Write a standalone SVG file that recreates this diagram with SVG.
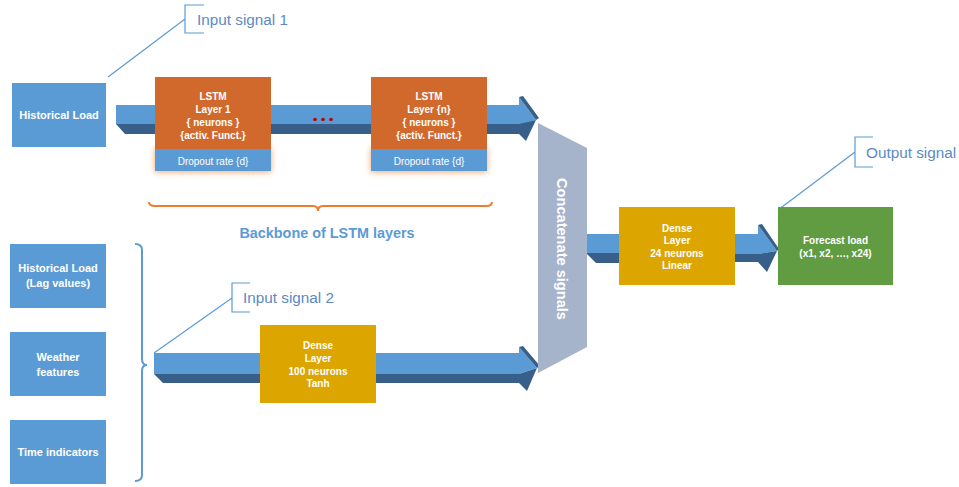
<svg xmlns="http://www.w3.org/2000/svg" width="959" height="487" viewBox="0 0 959 487">
<defs>
<style>
.lt{fill:#5B9BD5}
.dk{fill:#375F8A}
.blue{fill:#5B9BD5}
.orange{fill:#D0692B}
.gold{fill:#DCA500}
.green{fill:#629C42}
.bt{font-family:"Liberation Sans",Arial,sans-serif;font-weight:bold;fill:#fff;text-anchor:middle}
.bx{font-size:11px}
.sm{font-size:10px}
.dr{font-family:"Liberation Sans",Arial,sans-serif;font-size:10px;fill:#fff;text-anchor:middle}
.co{fill:none;stroke:#5B9BD5;stroke-width:1.2}
.ct{font-family:"Liberation Sans",Arial,sans-serif;font-size:15.3px;fill:#5A8AC4}
</style>
<filter id="glow" x="-30%" y="-60%" width="160%" height="220%">
<feGaussianBlur stdDeviation="3"/>
</filter>
</defs>

<g id="connectors">
<g id="arrow-top">
<rect class="lt" x="116" y="105" width="404" height="19"/>
<polygon class="dk" points="116,124 520,124 520,134 125,134"/>
<polygon class="lt" points="519,97 536,120 519,125"/>
<polygon class="dk" points="519,124 536,120 526,141 519,134"/>
<polygon class="dk" points="519,97 523,96 539,118 536,120"/>
</g>
<g id="arrow-bottom">
<rect class="lt" x="154" y="353" width="366" height="21"/>
<polygon class="dk" points="154,374 520,374 520,383 163,383"/>
<polygon class="lt" points="519,347 537,368 519,374"/>
<polygon class="dk" points="519,374 537,368 527,391 519,383"/>
<polygon class="dk" points="519,347 523,346 540,366 537,368"/>
</g>
<g id="arrow-concat-dense">
<rect class="lt" x="586" y="234" width="40" height="19"/>
<polygon class="dk" points="586,253 626,253 626,263 596,263"/>
</g>
<g id="arrow-dense-forecast">
<rect class="lt" x="733" y="234" width="26" height="20"/>
<polygon class="dk" points="733,254 759,254 759,262 733,262"/>
<polygon class="lt" points="758,225 777,251 758,254"/>
<polygon class="dk" points="758,254 777,251 767,272 758,262"/>
<polygon class="dk" points="758,225 762,224 779,249 777,251"/>
</g>
<path class="co" d="M108,77 L185,19 M204,5 H185 V33 H204"/>
<path class="co" d="M154,353 L232,298 M250,283 H232 V312 H250"/>
<path class="co" d="M778,210 L855,152 M873,137 H855 V167 H873"/>
<path d="M135,244 Q142,244 142,250 V359 Q142,365 147,365 Q142,365 142,371 V475 Q142,481 135,481" fill="none" stroke="#5B9BD5" stroke-width="2"/>
<path d="M149,202 Q149,206 155,206 H313 Q318,206 318,211 Q318,206 323,206 H486 Q492,206 492,202" fill="none" stroke="#ED7D31" stroke-width="2"/>
</g>

<g id="historical-load">
<rect class="blue" x="12" y="83" width="94" height="64"/>
<text class="bt bx" x="59" y="119">Historical Load</text>
</g>

<g id="lstm1">
<rect x="155" y="148" width="116" height="24" fill="#F4A46A" filter="url(#glow)"/>
<rect class="orange" x="155" y="77" width="116" height="72"/>
<rect class="blue" x="155" y="149" width="116" height="22"/>
<text class="bt sm" x="213" y="99.5">LSTM</text>
<text class="bt sm" x="213" y="112.5">Layer 1</text>
<text class="bt sm" x="213" y="125.5">{ neurons }</text>
<text class="bt sm" x="213" y="138.5">{activ. Funct.}</text>
<text class="dr" x="213" y="164.5">Dropout rate {d}</text>
</g>

<g id="dots">
<circle cx="315" cy="119.5" r="1.8" fill="#C00000"/>
<circle cx="323" cy="119.5" r="1.8" fill="#C00000"/>
<circle cx="331" cy="119.5" r="1.8" fill="#C00000"/>
</g>

<g id="lstmn">
<rect x="371" y="148" width="116" height="24" fill="#F4A46A" filter="url(#glow)"/>
<rect class="orange" x="371" y="77" width="116" height="72"/>
<rect class="blue" x="371" y="149" width="116" height="22"/>
<text class="bt sm" x="429" y="99.5">LSTM</text>
<text class="bt sm" x="429" y="112.5">Layer {n}</text>
<text class="bt sm" x="429" y="125.5">{ neurons }</text>
<text class="bt sm" x="429" y="138.5">{activ. Funct.}</text>
<text class="dr" x="429" y="164.5">Dropout rate {d}</text>
</g>

<g id="backbone-label">
<text x="327" y="238" font-family="Liberation Sans, Arial, sans-serif" font-weight="bold" font-size="14.4" fill="#5B9BD5" text-anchor="middle">Backbone of LSTM layers</text>
</g>

<g id="concatenate">
<polygon points="538,123 587,148 587,347 538,373" fill="#A5B4CB"/>
<text class="bt" font-size="14.6" transform="translate(562,249) rotate(90)" dominant-baseline="central">Concatenate signals</text>
</g>

<g id="dense-24">
<rect class="gold" x="619" y="207" width="116" height="78"/>
<text class="bt sm" x="677" y="231.5">Dense</text>
<text class="bt sm" x="677" y="244">Layer</text>
<text class="bt sm" x="677" y="256.5">24 neurons</text>
<text class="bt sm" x="677" y="269">Linear</text>
</g>

<g id="forecast">
<rect class="green" x="778" y="207" width="115" height="78"/>
<text class="bt sm" x="835.5" y="243.5">Forecast load</text>
<text class="bt sm" x="835.5" y="256.5">(x1, x2, …, x24)</text>
</g>

<g id="lag-values">
<rect class="blue" x="10" y="244" width="96" height="64"/>
<text class="bt bx" x="58" y="272">Historical Load</text>
<text class="bt bx" x="58" y="287">(Lag values)</text>
</g>

<g id="weather">
<rect class="blue" x="10" y="332" width="96" height="64"/>
<text class="bt bx" x="58" y="361">Weather</text>
<text class="bt bx" x="58" y="376">features</text>
</g>

<g id="time">
<rect class="blue" x="10" y="420" width="96" height="64"/>
<text class="bt bx" x="58" y="456">Time indicators</text>
</g>

<g id="dense-100">
<rect class="gold" x="260" y="325" width="116" height="78"/>
<text class="bt sm" x="318" y="348.5">Dense</text>
<text class="bt sm" x="318" y="361.5">Layer</text>
<text class="bt sm" x="318" y="374.5">100 neurons</text>
<text class="bt sm" x="318" y="387">Tanh</text>
</g>

<g id="callout-texts">
<text class="ct" x="197" y="25">Input signal 1</text>
<text class="ct" x="243" y="303">Input signal 2</text>
<text class="ct" x="866" y="158">Output signal</text>
</g>
</svg>
